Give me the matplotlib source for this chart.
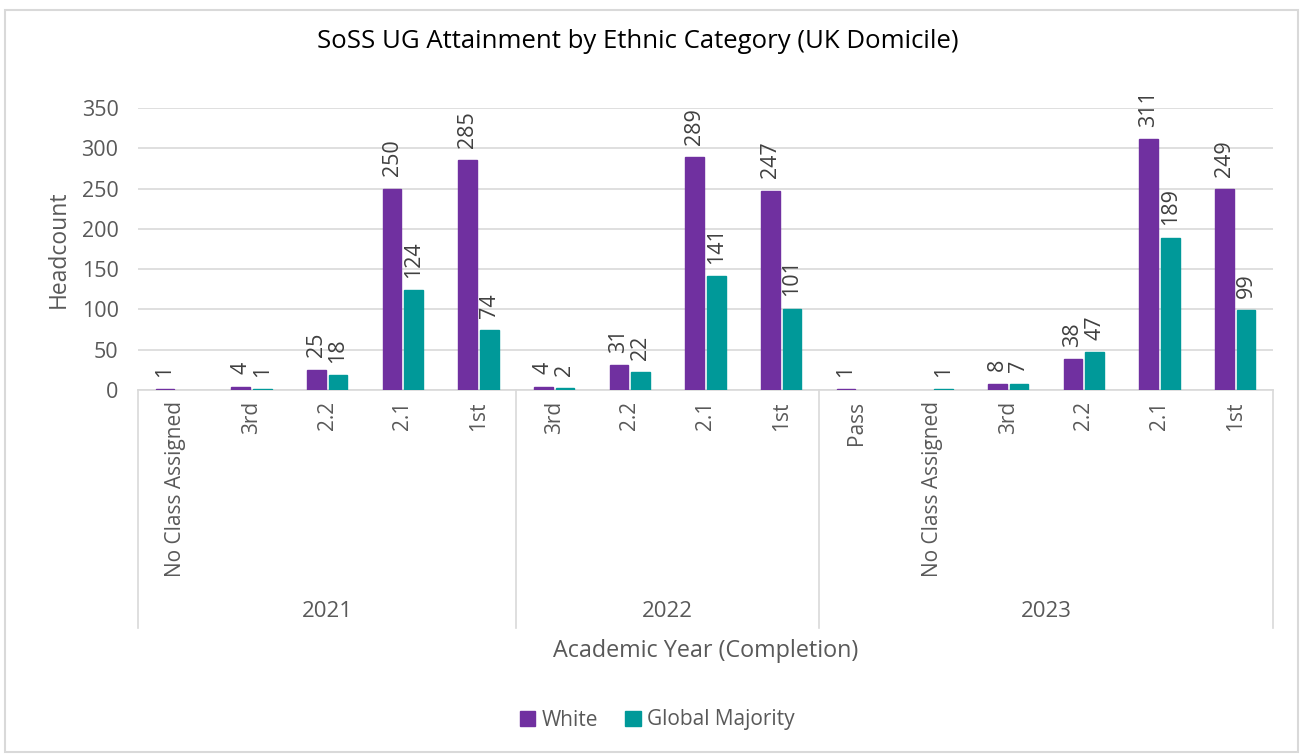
import matplotlib.pyplot as plt
import matplotlib.transforms as mtransforms
from matplotlib.patches import Rectangle, Patch
import numpy as np

# data
years = ["2021", "2022", "2023"]
classes_2021 = ["No Class Assigned", "3rd", "2.2", "2.1", "1st"]
classes_2022 = ["3rd", "2.2", "2.1", "1st"]
classes_2023 = ["Pass", "No Class Assigned", "3rd", "2.2", "2.1", "1st"]

white_2021 = [1, 4, 25, 250, 285]
white_2022 = [4, 31, 289, 247]
white_2023 = [1, None, 8, 38, 311, 249]

global_2021 = [None, 1, 18, 124, 74]
global_2022 = [2, 22, 141, 101]
global_2023 = [None, 1, 7, 47, 189, 99]

purple = "#7030A0"
teal = "#009999"
grey_text = "#595959"
grid_col = "#D9D9D9"

plt.rcParams['font.family'] = ['Open Sans', 'DejaVu Sans']

groups = [classes_2021, classes_2022, classes_2023]
labels = classes_2021 + classes_2022 + classes_2023
white = white_2021 + white_2022 + white_2023
glob = global_2021 + global_2022 + global_2023
x = np.arange(len(labels))

fig = plt.figure(figsize=(13.03, 7.56), dpi=100)
ax = fig.add_axes([138/1303, 1-390/756, (1273-138)/1303, (390-108)/756])

w = 0.247
off = 0.143
wv = np.array([np.nan if v is None else v for v in white], dtype=float)
gv = np.array([np.nan if v is None else v for v in glob], dtype=float)
# thin same-colour edge so the 1-headcount bars still show, as in the original
ax.bar(x[~np.isnan(wv)] - off, wv[~np.isnan(wv)], width=w, color=purple,
       edgecolor=purple, linewidth=1.0, zorder=3)
ax.bar(x[~np.isnan(gv)] + off, gv[~np.isnan(gv)], width=w, color=teal,
       edgecolor=teal, linewidth=1.0, zorder=3)

for xi, v in zip(x, white):
    if v is not None:
        ax.annotate(str(v), (xi - off, v), xytext=(0, 9), textcoords="offset points",
                    rotation=90, ha="center", va="bottom", fontsize=15.5, color="#404040")
for xi, v in zip(x, glob):
    if v is not None:
        ax.annotate(str(v), (xi + off, v), xytext=(0, 9), textcoords="offset points",
                    rotation=90, ha="center", va="bottom", fontsize=15.5, color="#404040")

ax.set_ylim(0, 350)
ax.set_xlim(-0.5, len(labels) - 0.5)
ax.set_yticks(range(0, 351, 50))
ax.yaxis.grid(True, color=grid_col, linewidth=1.2, zorder=0)
ax.set_axisbelow(True)
for s in ["top", "right", "left"]:
    ax.spines[s].set_visible(False)
ax.spines["bottom"].set_color(grid_col)
ax.spines["bottom"].set_linewidth(1.2)
ax.tick_params(axis="y", length=0, labelsize=15.5, labelcolor=grey_text, pad=14)
ax.set_xticks(x)
ax.set_xticklabels(labels, rotation=90, va="top", ha="center")
ax.tick_params(axis="x", length=0, labelsize=15, labelcolor=grey_text, pad=8)

ax.set_ylabel("Headcount", fontsize=16.5, color=grey_text, labelpad=8)

# year group separators and labels below the axis
trans = mtransforms.blended_transform_factory(ax.transData, ax.transAxes)
bounds = [-0.5]
for g in groups:
    bounds.append(bounds[-1] + len(g))
for b in bounds:
    ax.plot([b, b], [0, -0.845], transform=trans, color=grid_col, linewidth=1.2, clip_on=False)
for i, yr in enumerate(years):
    mid = (bounds[i] + bounds[i + 1]) / 2
    ax.text(mid, -0.787, yr, transform=trans, ha="center", va="center",
            fontsize=16, color=grey_text)

ax.text(0.5, -0.925, "Academic Year (Completion)", transform=ax.transAxes,
        ha="center", va="center", fontsize=16.8, color=grey_text)

fig.text(638/1303, 1-42/756, "SoSS UG Attainment by Ethnic Category (UK Domicile)",
         ha="center", va="center", fontsize=18.5, color="black")

handles = [Patch(color=purple, label="White"), Patch(color=teal, label="Global Majority")]
fig.legend(handles=handles, loc="center", bbox_to_anchor=(657/1303, 1-720/756), ncol=2,
           frameon=False, fontsize=15, labelcolor=grey_text, handlelength=0.75,
           handleheight=0.75, handletextpad=0.3, columnspacing=1.3)

fig.patches.append(Rectangle((5/1303, 4/756), 1293/1303, 742/756, transform=fig.transFigure,
                             fill=False, edgecolor=grid_col, linewidth=1.5))

fig.savefig("out.png", dpi=100)
